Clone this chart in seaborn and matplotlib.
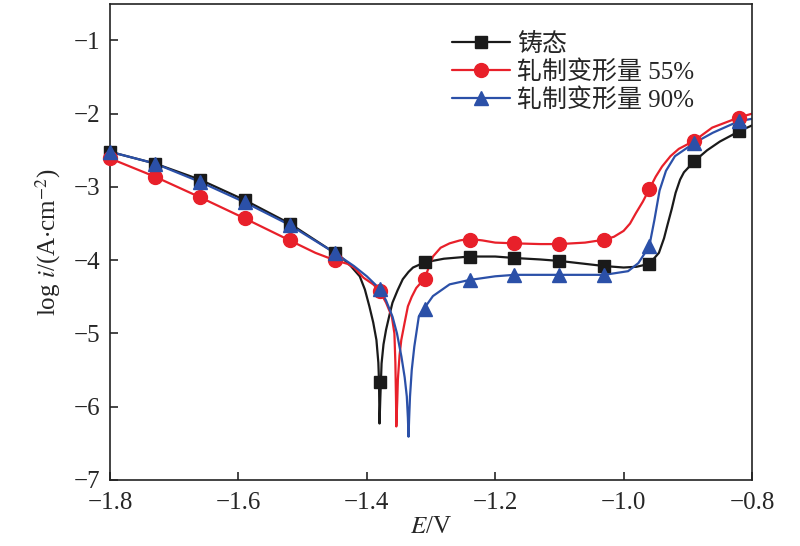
import numpy as np
import pandas as pd
import matplotlib
matplotlib.use("Agg")
import matplotlib.pyplot as plt
from matplotlib.lines import Line2D
import seaborn as sns

# marker positions (V)
e_marker = [-1.80, -1.73, -1.66, -1.59, -1.52, -1.45, -1.38, -1.31,
            -1.24, -1.17, -1.10, -1.03, -0.96, -0.89, -0.82]
cast_marker = [-2.52, -2.68, -2.90, -3.18, -3.50, -3.90, -5.66, -4.03,
               -3.95, -3.97, -4.01, -4.08, -4.05, -2.65, -2.24]
r55_marker = [-2.61, -2.86, -3.14, -3.43, -3.73, -4.00, -4.42, -4.25,
              -3.72, -3.77, -3.78, -3.72, -3.03, -2.37, -2.06]
r90_marker = [-2.52, -2.68, -2.93, -3.21, -3.52, -3.90, -4.39, -4.67,
              -4.27, -4.20, -4.20, -4.20, -3.81, -2.40, -2.10]

# traced curves
cast_e = [-1.80, -1.73, -1.66, -1.59, -1.52, -1.45, -1.437, -1.425, -1.411, -1.403,
          -1.396, -1.390, -1.385, -1.382, -1.381, -1.3805, -1.3802, -1.379, -1.377,
          -1.374, -1.370, -1.365, -1.360, -1.352, -1.344, -1.335, -1.328, -1.31,
          -1.28, -1.24, -1.20, -1.17, -1.13, -1.10, -1.06, -1.03, -1.00, -0.98,
          -0.96, -0.945, -0.937, -0.932, -0.925, -0.919, -0.912, -0.906, -0.89,
          -0.87, -0.85, -0.82, -0.80]
cast_i = [-2.52, -2.68, -2.90, -3.18, -3.50, -3.90, -3.98, -4.08, -4.22, -4.40,
          -4.63, -4.85, -5.09, -5.40, -5.65, -6.00, -6.23, -5.90, -5.41,
          -5.15, -4.95, -4.76, -4.58, -4.41, -4.26, -4.16, -4.10, -4.03,
          -3.98, -3.95, -3.95, -3.97, -3.99, -4.01, -4.05, -4.08, -4.10, -4.09,
          -4.05, -3.90, -3.70, -3.53, -3.30, -3.08, -2.90, -2.80, -2.65,
          -2.50, -2.38, -2.24, -2.16]

r55_e = [-1.80, -1.73, -1.66, -1.59, -1.52, -1.48, -1.45, -1.43, -1.42, -1.405,
         -1.39, -1.38, -1.37, -1.361, -1.357, -1.3555, -1.3545, -1.354, -1.3525,
         -1.3516, -1.349, -1.3463, -1.341, -1.336, -1.330, -1.323, -1.31, -1.297,
         -1.285, -1.271, -1.255, -1.24, -1.22, -1.20, -1.17, -1.13, -1.10, -1.06,
         -1.03, -1.015, -1.00, -0.99, -0.981, -0.97, -0.96, -0.95, -0.94, -0.927,
         -0.914, -0.89, -0.862, -0.82, -0.80]
r55_i = [-2.61, -2.86, -3.14, -3.43, -3.73, -3.90, -4.00, -4.05, -4.10, -4.24,
         -4.33, -4.42, -4.58, -4.77, -5.00, -5.40, -5.90, -6.27, -5.90,
         -5.63, -5.30, -5.09, -4.85, -4.63, -4.50, -4.38, -4.25, -3.95,
         -3.83, -3.77, -3.73, -3.71, -3.73, -3.76, -3.77, -3.78, -3.78, -3.76,
         -3.72, -3.68, -3.60, -3.50, -3.36, -3.20, -3.03, -2.86, -2.72, -2.58,
         -2.48, -2.37, -2.19, -2.05, -2.00]

r90_e = [-1.80, -1.73, -1.66, -1.59, -1.52, -1.45, -1.42, -1.40, -1.38, -1.37,
         -1.36, -1.353, -1.346, -1.341, -1.3377, -1.336, -1.335, -1.334, -1.3327,
         -1.330, -1.326, -1.319, -1.31, -1.297, -1.271, -1.24, -1.20, -1.17,
         -1.10, -1.03, -0.993, -0.977, -0.96, -0.952, -0.944, -0.934, -0.92,
         -0.89, -0.861, -0.82, -0.80]
r90_i = [-2.52, -2.68, -2.93, -3.21, -3.52, -3.90, -4.08, -4.22, -4.39, -4.55,
         -4.77, -5.00, -5.32, -5.60, -5.86, -6.15, -6.41, -6.15, -5.86,
         -5.50, -5.18, -4.77, -4.65, -4.49, -4.33, -4.27, -4.22, -4.20,
         -4.20, -4.20, -4.15, -4.04, -3.81, -3.45, -3.05, -2.78, -2.58,
         -2.40, -2.26, -2.10, -2.07]

labels = ["铸态", "轧制变形量 55%", "轧制变形量 90%"]
colors = ["#1a1a1a", "#e8202a", "#2b50a8"]
markers = ["s", "o", "^"]
msizes = [8.5, 10, 10]

sns.set_style("ticks")
plt.rcParams["font.family"] = ["Liberation Serif", "Noto Sans CJK SC", "DejaVu Sans"]
plt.rcParams["mathtext.fontset"] = "stix"
plt.rcParams["axes.unicode_minus"] = True

fig = plt.figure(figsize=(8, 5.46), dpi=100)
ax = fig.add_axes([0.1375, 0.121, 0.8025, 0.872])

curves = [(cast_e, cast_i), (r55_e, r55_i), (r90_e, r90_i)]
marks = [cast_marker, r55_marker, r90_marker]

for k in range(3):
    df = pd.DataFrame({"E": curves[k][0], "logi": curves[k][1]})
    sns.lineplot(data=df, x="E", y="logi", sort=False, estimator=None,
                 color=colors[k], lw=1.6, ax=ax, legend=False)
for k in range(3):
    dm = pd.DataFrame({"E": e_marker, "logi": marks[k]})
    ax.plot(dm["E"], dm["logi"], ls="none", marker=markers[k], ms=msizes[k],
            color=colors[k], zorder=3 + k, clip_on=False)

ax.set_xlim(-1.8, -0.8)
ax.set_ylim(-7, -0.5)
ax.set_xticks([-1.8, -1.6, -1.4, -1.2, -1.0, -0.8])
ax.set_xticklabels(["\u22121.8", "\u22121.6", "\u22121.4", "\u22121.2", "\u22121.0", "\u22120.8"])
ax.set_yticks([-7, -6, -5, -4, -3, -2, -1])
ax.set_yticklabels(["\u22127", "\u22126", "\u22125", "\u22124", "\u22123", "\u22122", "\u22121"])
ax.tick_params(direction="in", length=6, width=1.2, labelsize=18,
               top=False, right=False)
ax.tick_params(axis="x", pad=9)
ax.tick_params(axis="y", pad=7)
for s in ax.spines.values():
    s.set_linewidth(1.2)
    s.set_color("#222222")

ax.set_xlabel(r"$E$/V", fontsize=18, labelpad=1)
ax.set_ylabel(r"log $i$/(A$\cdot$cm$^{-2}$)", fontsize=18, labelpad=8)

handles = [Line2D([], [], color=colors[k], lw=1.6, marker=markers[k], ms=msizes[k])
           for k in range(3)]
ax.legend(handles, labels, loc="upper left", bbox_to_anchor=(0.51, 0.97),
          frameon=False, fontsize=18, handlelength=2.3, handletextpad=0.3,
          labelspacing=0.16, borderaxespad=0.2)

fig.savefig("out.png", dpi=100)
